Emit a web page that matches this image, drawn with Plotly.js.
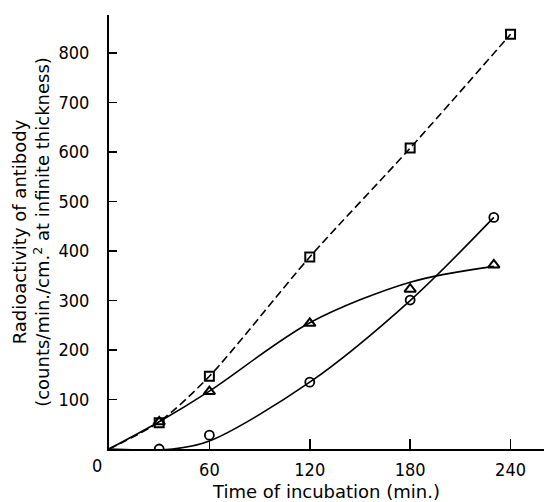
<!DOCTYPE html>
<html>
<head>
<meta charset="utf-8">
<script src="https://cdn.plot.ly/plotly-3.0.1.min.js"></script>
<style>html,body{margin:0;padding:0;background:#fff;}#chart{width:544px;height:502px;}</style>
</head>
<body>
<div id="chart"></div>
<script>
// Measured points
var squareX = [30, 60, 120, 180, 240];
var squareY = [53, 147, 388, 608, 838];
var triangleX = [30, 60, 120, 180, 230];
var triangleY = [55, 116, 254, 323, 372];
var circleX = [30, 60, 120, 180, 230];
var circleY = [0, 28, 135, 301, 468];

// Hand-drawn fitted curves
var squareCurveX = [0, 30, 60, 120, 180, 240];
var squareCurveY = [0, 55, 147, 388, 608, 838];
var triangleCurveX = [0, 30, 60, 120, 180, 230];
var triangleCurveY = [0, 55, 117, 255, 337, 369];
var circleCurveX = [0, 38, 60, 120, 180, 230];
var circleCurveY = [0, 0, 16, 135, 300, 468];

var xTicks = [60, 120, 180, 240];
var yTicks = [100, 200, 300, 400, 500, 600, 700, 800];

var lineW = 1.6;
var traces = [
  {x: squareCurveX, y: squareCurveY, mode: 'lines', line: {color: '#000', width: lineW, dash: '8px,4px', shape: 'spline', smoothing: 0.8}, hoverinfo: 'skip'},
  {x: triangleCurveX, y: triangleCurveY, mode: 'lines', line: {color: '#000', width: lineW, shape: 'spline', smoothing: 0.9}, hoverinfo: 'skip'},
  {x: circleCurveX, y: circleCurveY, mode: 'lines', line: {color: '#000', width: lineW, shape: 'spline', smoothing: 0.9}, hoverinfo: 'skip'},
  {x: squareX, y: squareY, mode: 'markers', marker: {symbol: 'square-open', size: 9, color: '#000', line: {width: 2}}},
  {x: triangleX, y: triangleY, mode: 'markers', marker: {symbol: 'triangle-up-open', size: 10, color: '#000', line: {width: 2}}},
  {x: circleX, y: circleY, mode: 'markers', marker: {symbol: 'circle-open', size: 9, color: '#000', line: {width: 1.8}}}
];

var fontFam = '"DejaVu Sans", "Liberation Sans", sans-serif';
var tickFam = '"DejaVu Sans Condensed", "DejaVu Sans", sans-serif';
var layout = {
  width: 544, height: 502,
  margin: {l: 109, r: 0, t: 15, b: 53},
  paper_bgcolor: '#fff', plot_bgcolor: '#fff',
  showlegend: false,
  font: {family: fontFam, color: '#000', size: 16},
  xaxis: {
    range: [0, 260], showgrid: false, zeroline: false,
    showline: true, linecolor: '#000', linewidth: 2,
    ticks: 'inside', ticklen: 10, tickwidth: 1.5, tickcolor: '#000',
    tickvals: xTicks, ticktext: xTicks.map(String),
    tickfont: {family: tickFam, size: 18},
    ticklabelstandoff: 3,
    title: {text: 'Time of incubation (min.)', font: {family: fontFam, size: 18}, standoff: 7}
  },
  yaxis: {
    range: [0, 877], showgrid: false, zeroline: false,
    showline: true, linecolor: '#000', linewidth: 2,
    ticks: 'inside', ticklen: 8, tickwidth: 1.5, tickcolor: '#000',
    tickvals: yTicks, ticktext: yTicks.map(String),
    tickfont: {family: tickFam, size: 18},
    ticklabelstandoff: 14,
    title: {text: 'Radioactivity of antibody<br>(counts/min./cm.<sup>2</sup> at infinite thickness)', font: {family: fontFam, size: 18}, standoff: 4}
  },
  annotations: [
    {xref: 'paper', yref: 'paper', x: -0.028, y: -0.037, text: '0', showarrow: false,
     xanchor: 'center', yanchor: 'middle', font: {family: tickFam, size: 18}}
  ]
};

Plotly.newPlot('chart', traces, layout, {displayModeBar: false, staticPlot: true});
</script>
</body>
</html>
